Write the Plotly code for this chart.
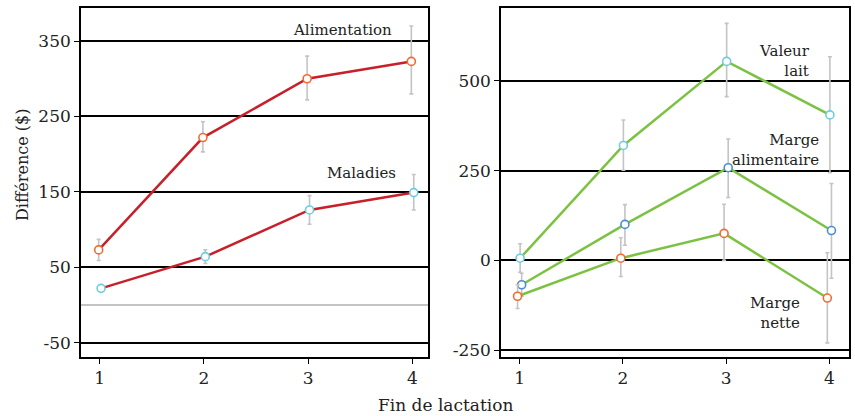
import plotly.graph_objects as go

# ---- data ----
lactation = [1, 2, 3, 4]

# Left panel
alimentation = [73, 222, 300, 323]
alimentation_hi = [87, 243, 330, 370]
alimentation_lo = [59, 203, 272, 280]

maladies = [22, 64, 126, 149]
maladies_hi = [22, 73, 145, 173]
maladies_lo = [22, 55, 107, 126]

# Right panel
valeur_lait = [6, 320, 554, 405]
valeur_lait_hi = [46, 391, 660, 567]
valeur_lait_lo = [-33, 251, 456, 244]

marge_alim = [-68, 100, 258, 83]
marge_alim_hi = [-36, 155, 338, 214]
marge_alim_lo = [-100, 42, 175, -50]

marge_nette = [-100, 6, 75, -105]
marge_nette_hi = [-68, 63, 156, 21]
marge_nette_lo = [-134, -45, 0, -230]

left_ticks = [-50, 50, 150, 250, 350]
left_labels = ["-50", "50", "150", "250", "350"]
right_ticks = [-250, 0, 250, 500]
right_labels = ["-250", "0", "250", "500"]

# ---- style ----
FONT = "DejaVu Serif"
RED = "#c8202a"
GREEN = "#7cc242"
ORANGE = "#f26a2e"
CYAN = "#6dcde0"
BLUE = "#4b8cd6"
ERR = "#c4c4c4"

fig = go.Figure()


def add_series(y, hi, lo, line_color, marker_color, dodge, xa, ya):
    xs = [v + dodge for v in lactation]
    fig.add_trace(go.Scatter(
        x=xs, y=y, mode="lines+markers",
        xaxis=xa, yaxis=ya,
        line=dict(color=line_color, width=2.5),
        marker=dict(symbol="circle", size=8, color="white",
                    line=dict(color=marker_color, width=1.6)),
        error_y=dict(type="data", symmetric=False,
                     array=[h - v for h, v in zip(hi, y)],
                     arrayminus=[v - l for v, l in zip(y, lo)],
                     color=ERR, thickness=1.6, width=2),
        showlegend=False, hoverinfo="skip",
    ))


add_series(alimentation, alimentation_hi, alimentation_lo, RED, ORANGE, -0.01, "x", "y")
add_series(maladies, maladies_hi, maladies_lo, RED, CYAN, 0.013, "x", "y")

add_series(valeur_lait, valeur_lait_hi, valeur_lait_lo, GREEN, CYAN, 0.005, "x2", "y2")
add_series(marge_alim, marge_alim_hi, marge_alim_lo, GREEN, BLUE, 0.02, "x2", "y2")
add_series(marge_nette, marge_nette_hi, marge_nette_lo, GREEN, ORANGE, -0.02, "x2", "y2")

axis_common = dict(
    showline=True, linecolor="black", linewidth=1.5, mirror=True,
    ticks="outside", ticklen=5, tickwidth=1.2, tickcolor="black",
    tickfont=dict(family=FONT, size=17, color="#222"),
    automargin=False,
)

fig.update_layout(
    width=855, height=416,
    margin=dict(l=0, r=0, t=0, b=0),
    paper_bgcolor="white", plot_bgcolor="white",
    font=dict(family=FONT, color="#222"),
    xaxis=dict(domain=[0.0947, 0.5006], range=[0.82, 4.15],
               tickvals=lactation, showgrid=False, zeroline=False, anchor="y",
               **axis_common),
    yaxis=dict(domain=[0.142, 0.981], range=[-69, 394],
               tickvals=left_ticks, ticktext=left_labels,
               showgrid=True, gridcolor="black", gridwidth=1.5,
               zeroline=True, zerolinecolor="#c4c4c4", zerolinewidth=1.5,
               anchor="x", **axis_common),
    xaxis2=dict(domain=[0.586, 0.993], range=[0.82, 4.19],
                tickvals=lactation, showgrid=False, zeroline=False, anchor="y2",
                **axis_common),
    yaxis2=dict(domain=[0.142, 0.981], range=[-269, 703],
                tickvals=right_ticks, ticktext=right_labels,
                showgrid=True, gridcolor="black", gridwidth=1.5,
                zeroline=True, zerolinecolor="black", zerolinewidth=1.5,
                anchor="x2", **axis_common),
)

ann_font = dict(family=FONT, size=15, color="#222")
annotations = [
    dict(text="Alimentation", x=3.82, y=365, xref="x", yref="y"),
    dict(text="Maladies", x=3.86, y=175, xref="x", yref="y"),
    dict(text="Valeur<br>lait", x=3.83, y=556, xref="x2", yref="y2"),
    dict(text="Marge<br>alimentaire", x=3.92, y=307, xref="x2", yref="y2"),
    dict(text="Marge<br>nette", x=3.73, y=-146, xref="x2", yref="y2"),
]
for a in annotations:
    fig.add_annotation(**a, xanchor="right", yanchor="middle", align="right",
                       showarrow=False, font=ann_font)

fig.add_annotation(text="Fin de lactation", x=445 / 855, y=1 - 405 / 416,
                   xref="paper", yref="paper",
                   xanchor="center", yanchor="middle", showarrow=False,
                   font=dict(family=FONT, size=17, color="#222"))
fig.add_annotation(text="Différence ($)", x=22 / 855, y=1 - 165 / 416,
                   xref="paper", yref="paper", textangle=-90,
                   xanchor="center", yanchor="middle", showarrow=False,
                   font=dict(family=FONT, size=16, color="#222"))

fig.write_html("out.html",
               config={"displayModeBar": False},
               post_script="document.body.style.margin='0';document.body.style.overflow='hidden';")
